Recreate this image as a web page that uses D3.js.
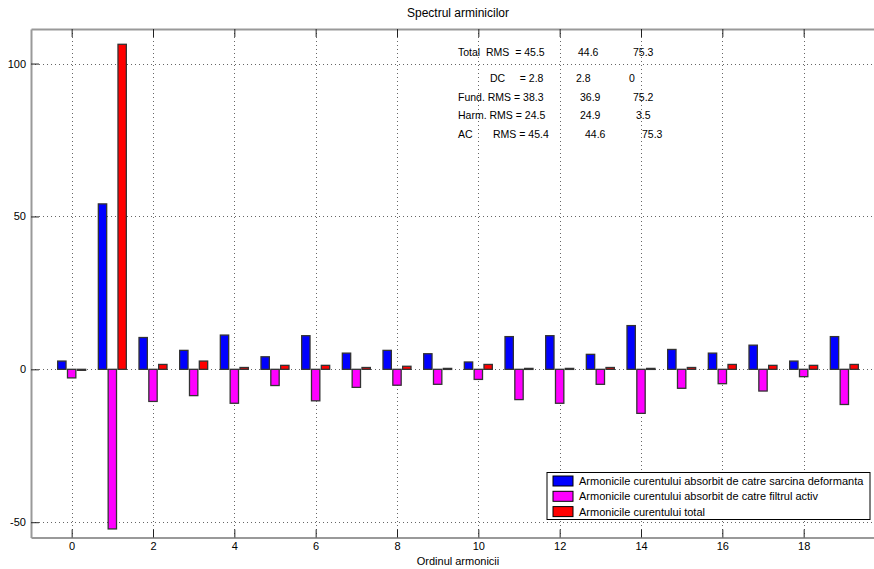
<!DOCTYPE html>
<html>
<head>
<meta charset="utf-8">
<script src="https://cdn.jsdelivr.net/npm/d3@7"></script>
<style>
  body { margin: 0; background: #fff; }
  text { font-family: "Liberation Sans", Arial, sans-serif; fill: #000; }
</style>
</head>
<body>
<script>
// harmonic order 0..19
var harmonics = d3.range(0, 20);

// peak values
var sarcina = [2.7, 54.1, 10.4, 6.2, 11.2, 4.1, 11.0, 5.3, 6.2, 5.1,
               2.4, 10.7, 11.0, 4.9, 14.3, 6.5, 5.3, 7.9, 2.7, 10.7];
var filtru  = [-2.8, -52.2, -10.5, -8.6, -11.1, -5.3, -10.3, -5.9, -5.2, -4.9,
               -3.3, -9.9, -11.1, -4.9, -14.4, -6.2, -4.7, -7.1, -2.4, -11.5];
var total   = [0, 106.3, 1.6, 2.7, 0.6, 1.3, 1.3, 0.6, 1.0, 0.3,
               1.6, 0.3, 0.3, 0.6, 0.3, 0.6, 1.6, 1.3, 1.3, 1.6];

var seriesNames = [
  "Armonicile curentului absorbit de catre sarcina deformanta",
  "Armonicile curentului absorbit de catre filtrul activ",
  "Armonicile curentului total"
];
var seriesColors = ["#0000ff", "#ff00ff", "#ff0000"];

var xTicks = [0, 2, 4, 6, 8, 10, 12, 14, 16, 18];
var yTicks = [-50, 0, 50, 100];

// RMS summary, one column per series
var statLabels = ["Total  RMS  = ", "DC     = ", "Fund. RMS = ", "Harm. RMS = ", "AC       RMS = "];
var statSarcina = ["45.5", "2.8", "38.3", "24.5", "45.4"];
var statFiltru  = ["44.6", "2.8", "36.9", "24.9", "44.6"];
var statTotal   = ["75.3", "0", "75.2", "3.5", "75.3"];

var w = 874, h = 569;
var pL = 31, pR = 885, pT = 29, pB = 537.5;

var svg = d3.select("body").append("svg")
  .attr("width", w)
  .attr("height", h);

var xScale = d3.scaleLinear().domain([-1, 20]).range([pL, pR]);
var yScale = d3.scaleLinear().domain([-55, 111.3]).range([pB, pT]);
var inner = d3.scaleBand().domain([0, 1, 2]).range([-14, 14]).paddingInner(0.15);

// grid
svg.append("g").selectAll("line")
  .data(xTicks).enter().append("line")
  .attr("x1", function(d) { return Math.round(xScale(d)) + 0.5; })
  .attr("x2", function(d) { return Math.round(xScale(d)) + 0.5; })
  .attr("y1", pT).attr("y2", pB)
  .attr("stroke", "#666").attr("stroke-dasharray", "1,3");
svg.append("g").selectAll("line")
  .data(yTicks).enter().append("line")
  .attr("y1", function(d) { return Math.round(yScale(d)) + 0.5; })
  .attr("y2", function(d) { return Math.round(yScale(d)) + 0.5; })
  .attr("x1", pL).attr("x2", pR)
  .attr("stroke", "#666").attr("stroke-dasharray", "1,3");

// bars
var all = [sarcina, filtru, total];
all.forEach(function(vals, s) {
  svg.append("g").selectAll("rect")
    .data(vals).enter().append("rect")
    .attr("x", function(d, i) { return xScale(harmonics[i]) + inner(s); })
    .attr("width", inner.bandwidth())
    .attr("y", function(d) { return Math.min(yScale(d), yScale(0)); })
    .attr("height", function(d) { return Math.max(Math.abs(yScale(d) - yScale(0)), 1); })
    .attr("fill", seriesColors[s])
    .attr("stroke", "#333")
    .attr("stroke-width", 1.3);
});

// axes frame
var xAxisB = d3.axisBottom(xScale).tickValues(xTicks).tickSize(-8).tickPadding(6).tickSizeOuter(0);
var xAxisT = d3.axisTop(xScale).tickValues(xTicks).tickSize(-8).tickFormat("").tickSizeOuter(0);
var yAxisL = d3.axisLeft(yScale).tickValues(yTicks).tickSize(-8).tickPadding(5).tickSizeOuter(0)
  .tickFormat(function(d) { return String(d); });

function styleAxis(g) {
  g.select(".domain").attr("stroke", "#999").attr("stroke-width", 2);
  g.selectAll(".tick line").attr("stroke", "#222");
  g.selectAll(".tick text").attr("font-size", "11px")
    .attr("font-family", "Liberation Sans, Arial, sans-serif");
}
svg.append("g").attr("transform", "translate(0," + pB + ")").call(xAxisB).call(styleAxis)
  .selectAll(".tick text").attr("y", 5);
svg.append("g").attr("transform", "translate(0," + pT + ")").call(xAxisT).call(styleAxis);
svg.append("g").attr("transform", "translate(" + pL + ",0)").call(yAxisL).call(styleAxis)
  .selectAll(".tick text").attr("x", -5);

// title and label
svg.append("text")
  .attr("x", (pL + pR) / 2).attr("y", 17)
  .attr("text-anchor", "middle").attr("font-size", "12px")
  .text("Spectrul arminicilor");
svg.append("text")
  .attr("x", (pL + pR) / 2).attr("y", 565)
  .attr("text-anchor", "middle").attr("font-size", "11px")
  .text("Ordinul armonicii");

// RMS text block
var rowY = [56, 82, 101, 119, 138];
var stat = svg.append("g").attr("font-size", "10.5px");
statLabels.forEach(function(lab, i) {
  var t = stat.append("text").attr("y", rowY[i]).attr("xml:space", "preserve")
    .style("white-space", "pre");
  t.append("tspan").attr("x", i == 1 ? 490 : 458).text(lab + statSarcina[i]);
  stat.append("text").attr("y", rowY[i]).attr("x", [578, 576, 580, 580, 585][i]).text(statFiltru[i]);
  stat.append("text").attr("y", rowY[i]).attr("x", [633, 629, 633, 636, 642][i]).text(statTotal[i]);
});

// legend
var leg = svg.append("g").attr("transform", "translate(547,472.5)");
leg.append("rect").attr("width", 323).attr("height", 47)
  .attr("fill", "#fff").attr("stroke", "#000");
seriesNames.forEach(function(name, i) {
  leg.append("rect").attr("x", 6).attr("y", 3.5 + i * 15.3).attr("width", 20).attr("height", 10)
    .attr("fill", seriesColors[i]).attr("stroke", "#000");
  leg.append("text").attr("x", 32).attr("y", 12.5 + i * 15.3)
    .attr("font-size", "11px").text(name);
});
</script>
</body>
</html>
